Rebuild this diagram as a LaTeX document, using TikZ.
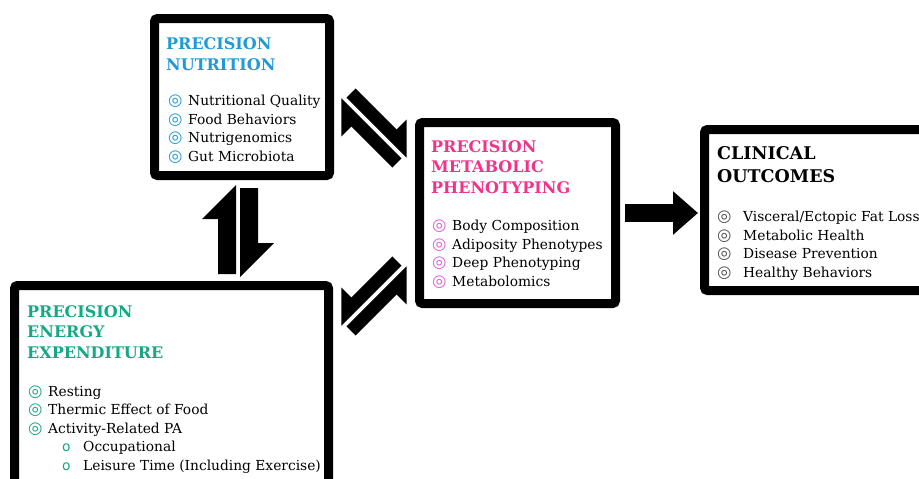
\documentclass[tikz,border=0pt]{standalone}
\usepackage{fontspec}
\setmainfont{DejaVu Serif}
\newfontfamily\symfont{DejaVu Sans}
\usetikzlibrary{arrows.meta}
\definecolor{nutriblue}{HTML}{1E9BD7}
\definecolor{metapink}{HTML}{F2338C}
\definecolor{metabul}{HTML}{E35BE0}
\definecolor{energygreen}{HTML}{14A884}
\definecolor{clingray}{HTML}{555555}
\newcommand{\circbul}[2][20pt]{\makebox[#1][l]{\symfont\fontsize{16.5}{16.5}\selectfont\textcolor{#2}{◎}}}
\newcommand{\subbul}{\hspace*{34pt}\makebox[21pt][l]{\symfont\textcolor{energygreen}{o}}}
\tikzset{
  panel/.style={draw, line width=9pt, rounded corners=3pt, inner sep=0pt,
    outer sep=4.5pt, fill=white},
  heading/.style={anchor=base west, align=left, inner sep=0pt,
    font=\bfseries\fontsize{16}{20.5}\selectfont},
  items/.style={anchor=base west, align=left, inner sep=0pt,
    font=\fontsize{13.8}{18.5}\selectfont},
  bigarrow/.style={line width=18pt, -{Triangle[length=25pt,width=42pt]}},
  % shaft width / barb / half length
  pics/harpoons/.style args={#1/#2/#3}{code={
    \fill (-2,-#3) -- (-2,#3-3) -- ({-2-#1},#3-3) -- ({-2-#1},{-#3+#1+#2})
      -- ({-2-#1-#2},{-#3+#1+#2}) -- cycle;
    \fill (2,#3) -- (2,-#3+3) -- ({2+#1},-#3+3) -- ({2+#1},{#3-#1-#2})
      -- ({2+#1+#2},{#3-#1-#2}) -- cycle;
  }}
}
\begin{document}
\begin{tikzpicture}[x=1pt,y=-1pt]
  \useasboundingbox (0,0) rectangle (919,479);
  \clip (0,0) rectangle (919,479);
  % Panels, sizes taken along the middle of the frame.
  \node[panel, minimum width=175pt, minimum height=157pt] (nutri) at (242,97) {};
  \node[panel, minimum width=196pt, minimum height=181pt] (metab) at (517.5,213) {};
  \node[panel, minimum width=225pt, minimum height=161pt] (clin) at (817,210) {};
  \node[panel, minimum width=314pt, minimum height=205pt] (energy) at (171.5,388) {};
  % Nutrition (base = last line).
  \node[heading, text=nutriblue] (nutrihead) at ([shift={(16,56)}]nutri.north west)
    {PRECISION\\NUTRITION};
  \node[items] (nutrilist) at ([shift={(18,147)}]nutri.north west)
    {\circbul{nutriblue}Nutritional Quality\\
     \circbul{nutriblue}Food Behaviors\\
     \circbul{nutriblue}Nutrigenomics\\
     \circbul{nutriblue}Gut Microbiota};
  % Metabolic phenotyping.
  \node[heading, text=metapink] (metabhead) at ([shift={(16,75)}]metab.north west)
    {PRECISION\\METABOLIC\\PHENOTYPING};
  \node[items] (metablist) at ([shift={(17,168)}]metab.north west)
    {\circbul{metabul}Body Composition\\
     \circbul{metabul}Adiposity Phenotypes\\
     \circbul{metabul}Deep Phenotyping\\
     \circbul{metabul}Metabolomics};
  % Clinical outcomes.
  \node[heading, font=\bfseries\fontsize{17.5}{23}\selectfont] (clinhead)
    at ([shift={(17,57)}]clin.north west) {CLINICAL\\OUTCOMES};
  \node[items] (clinlist) at ([shift={(17,152)}]clin.north west)
    {\circbul[26pt]{clingray}Visceral/Ectopic Fat Loss\\
     \circbul[26pt]{clingray}Metabolic Health\\
     \circbul[26pt]{clingray}Disease Prevention\\
     \circbul[26pt]{clingray}Healthy Behaviors};
  % Energy expenditure.
  \node[heading, text=energygreen] (energyhead) at ([shift={(17,77)}]energy.north west)
    {PRECISION\\ENERGY\\EXPENDITURE};
  \node[items] (energylist) at ([shift={(18,189)}]energy.north west)
    {\circbul{energygreen}Resting\\
     \circbul{energygreen}Thermic Effect of Food\\
     \circbul{energygreen}Activity-Related PA\\
     \subbul Occupational\\
     \subbul Leisure Time (Including Exercise)};
  % Two-way block arrows between the panels.
  \coordinate (nutrienergy) at (238,231);
  \coordinate (nutrimetab) at (374,128);
  \coordinate (energymetab) at (374,296);
  \pic at (nutrienergy) {harpoons=18/16/46};
  \pic[rotate=45] at (nutrimetab) {harpoons=13/14/44};
  \pic[yscale=-1, rotate=45] at (energymetab) {harpoons=13/14/44};
  % One-way arrow to the outcomes.
  \draw[bigarrow, shorten <=5pt, shorten >=2pt] (metab.east) -- (metab.east -| clin.west);
\end{tikzpicture}
\end{document}
